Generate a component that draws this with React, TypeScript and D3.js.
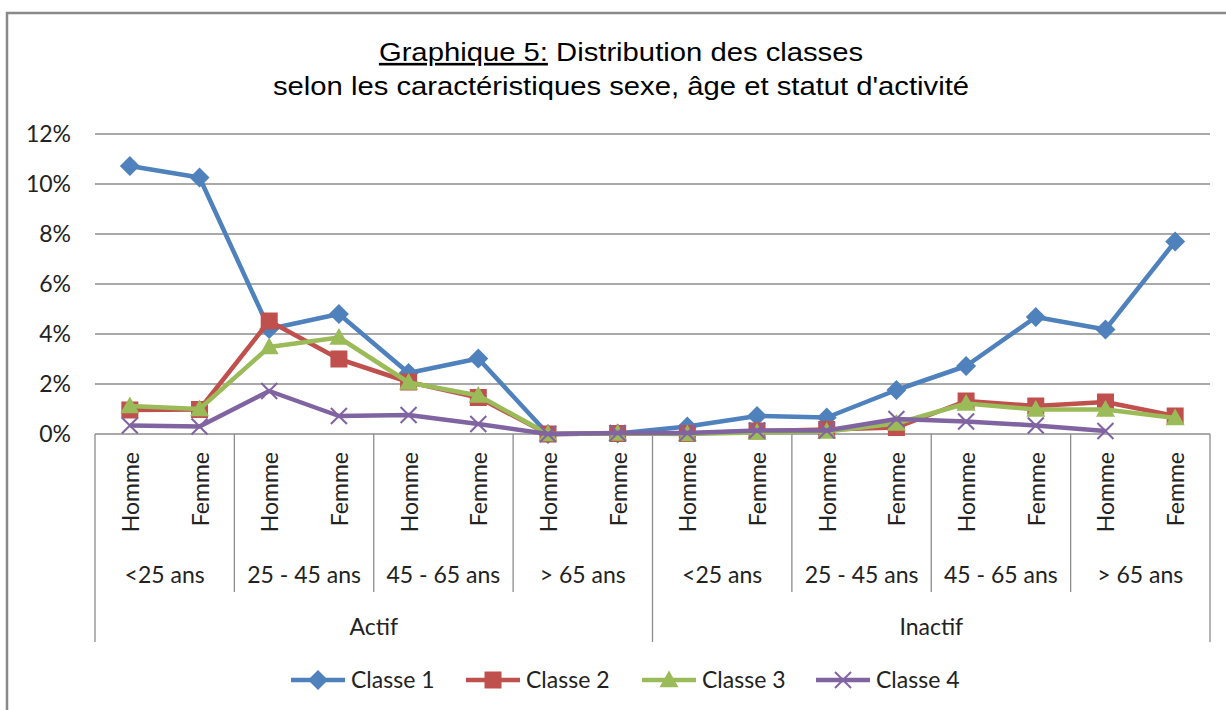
import React from "react";
import * as d3 from "d3";

const statuses = ["Actif", "Inactif"];
const ages = ["<25 ans", "25 - 45 ans", "45 - 65 ans", "> 65 ans"];
const sexes = ["Homme", "Femme"];

const classe1 = [10.72, 10.26, 4.2, 4.8, 2.44, 3.02, 0.0, 0.02, 0.3, 0.72, 0.66, 1.76, 2.72, 4.68, 4.18, 7.7];
const classe2 = [0.96, 0.98, 4.52, 3.0, 2.08, 1.46, 0.0, 0.02, 0.02, 0.12, 0.18, 0.26, 1.32, 1.12, 1.28, 0.72];
const classe3 = [1.12, 1.0, 3.48, 3.86, 2.06, 1.54, 0.0, 0.02, 0.0, 0.06, 0.1, 0.42, 1.22, 0.98, 0.98, 0.64];
const classe4 = [0.34, 0.3, 1.72, 0.72, 0.76, 0.4, 0.0, 0.04, 0.04, 0.14, 0.14, 0.6, 0.5, 0.34, 0.12, null];

const seriesNames = ["Classe 1", "Classe 2", "Classe 3", "Classe 4"];
const seriesColors = ["#4F81BD", "#C0504D", "#9BBB59", "#8064A2"];
const seriesMarkers = ["diamond", "square", "triangle", "x"];
const seriesValues = [classe1, classe2, classe3, classe4];

const yTicks = [0, 0.02, 0.04, 0.06, 0.08, 0.1, 0.12];

const W = 1226;
const H = 710;
const L = 95;
const R = 1210;
const T = 134;
const B = 434;
const FONT = "Lato, 'Open Sans', sans-serif";

function Marker({ type, x, y, color }: { type: string; x: number; y: number; color: string }) {
  if (type === "diamond") {
    const s = 10;
    return <path d={`M${x},${y - s}L${x + s},${y}L${x},${y + s}L${x - s},${y}Z`} fill={color} />;
  }
  if (type === "square") {
    const s = 8.5;
    return <rect x={x - s} y={y - s} width={2 * s} height={2 * s} fill={color} />;
  }
  if (type === "triangle") {
    const s = 9.5;
    return <path d={`M${x},${y - s}L${x + s},${y + s * 0.75}L${x - s},${y + s * 0.75}Z`} fill={color} />;
  }
  const s = 8;
  return (
    <g stroke={color} strokeWidth={2}>
      <line x1={x - s} y1={y - s} x2={x + s} y2={y + s} />
      <line x1={x - s} y1={y + s} x2={x + s} y2={y - s} />
    </g>
  );
}

export default function App() {
  const categories: { status: string; age: string; sex: string }[] = [];
  statuses.forEach((st) => ages.forEach((a) => sexes.forEach((sx) => categories.push({ status: st, age: a, sex: sx }))));
  const idx = categories.map((_, i) => i);

  const x = d3.scaleBand<number>().domain(idx).range([L, R]);
  const y = d3.scaleLinear().domain([0, 0.12]).range([B, T]);
  const cx = (i: number) => (x(i) as number) + x.bandwidth() / 2;
  const fmt = d3.format(".0%");

  const line = d3
    .line<number | null>()
    .defined((d) => d != null)
    .x((_, i) => cx(i))
    .y((d) => y((d as number) / 100));

  const groupW = x.bandwidth() * sexes.length;
  const statusW = groupW * ages.length;

  const legendX = [291, 466, 642, 816];
  const legendY = 680;

  return (
    <svg width={W} height={H} style={{ position: "absolute", left: 0, top: 0, background: "#fff" }}>
      <rect x={0} y={0} width={W} height={H} fill="#fff" />
      <rect x={7} y={13} width={W + 20} height={H + 20} fill="none" stroke="#8a8a8a" strokeWidth={2.5} />

      <g
        fontFamily="'Liberation Sans', Arial, sans-serif"
        fontSize={26}
        fill="#000"
        textAnchor="middle"
        transform="translate(621,0) scale(1.125,1)"
      >
        <text x={0} y={61}>
          <tspan textDecoration="underline">Graphique 5:</tspan> Distribution des classes
        </text>
        <text x={0} y={95}>selon les caractéristiques sexe, âge et statut d'activité</text>
      </g>

      {yTicks.map((t) => (
        <g key={t}>
          {t > 0 && <line x1={L} x2={R} y1={y(t)} y2={y(t)} stroke="#8c8c8c" strokeWidth={1.3} />}
          <text x={71} y={y(t)} dy="0.35em" textAnchor="end" fontFamily={FONT} fontSize={23} fill="#222">
            {fmt(t)}
          </text>
        </g>
      ))}

      <line x1={L} x2={R} y1={B} y2={B} stroke="#8c8c8c" strokeWidth={1.5} />

      {statuses.map((st, si) =>
        ages.map((a, ai) => {
          const gx = L + si * statusW + ai * groupW;
          return ai === 0 ? null : (
            <line key={st + a} x1={gx} x2={gx} y1={B} y2={592} stroke="#8c8c8c" strokeWidth={1.3} />
          );
        })
      )}
      {d3.range(statuses.length + 1).map((k) => (
        <line key={k} x1={L + k * statusW} x2={L + k * statusW} y1={B} y2={642} stroke="#8c8c8c" strokeWidth={1.3} />
      ))}

      <g fontFamily={FONT} fontSize={23} fill="#222">
        {categories.map((c, i) => (
          <text
            key={i}
            transform={`translate(${cx(i)},452) rotate(-90)`}
            textAnchor="end"
            dominantBaseline="central"
          >
            {c.sex}
          </text>
        ))}
        {statuses.map((st, si) =>
          ages.map((a, ai) => (
            <text key={st + a} x={L + si * statusW + ai * groupW + groupW / 2} y={583} textAnchor="middle">
              {a}
            </text>
          ))
        )}
        {statuses.map((st, si) => (
          <text key={st} x={L + si * statusW + statusW / 2} y={635} textAnchor="middle">
            {st}
          </text>
        ))}
      </g>

      {seriesValues.map((vals, s) => (
        <g key={s}>
          <path d={line(vals) || ""} fill="none" stroke={seriesColors[s]} strokeWidth={4.5} strokeLinejoin="round" />
          {vals.map((v, i) =>
            v == null ? null : <Marker key={i} type={seriesMarkers[s]} x={cx(i)} y={y(v / 100)} color={seriesColors[s]} />
          )}
        </g>
      ))}

      {seriesNames.map((n, s) => (
        <g key={n}>
          <line x1={legendX[s]} x2={legendX[s] + 54} y1={legendY} y2={legendY} stroke={seriesColors[s]} strokeWidth={4.5} />
          <Marker type={seriesMarkers[s]} x={legendX[s] + 27} y={legendY} color={seriesColors[s]} />
          <text x={legendX[s] + 60} y={legendY} dy="0.35em" fontFamily={FONT} fontSize={23} fill="#222">
            {n}
          </text>
        </g>
      ))}
    </svg>
  );
}
